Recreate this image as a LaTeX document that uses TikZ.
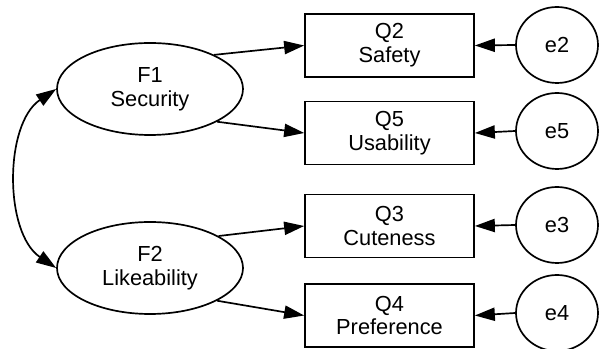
\documentclass[tikz,border=0pt]{standalone}
\usepackage{fontspec}
\setmainfont{Liberation Sans}
\usetikzlibrary{arrows.meta,shapes.geometric}

\begin{document}
\begin{tikzpicture}[
    every node/.style={font=\fontsize{15.5}{17}\selectfont, align=center},
    latent/.style={
        ellipse,
        draw,
        line width=1.2pt,
        minimum width=4.65cm,
        minimum height=2.3cm,
        inner sep=0pt
    },
    observed/.style={
        rectangle,
        draw,
        line width=1.2pt,
        minimum width=4.225cm,
        minimum height=1.575cm
    },
    error/.style={
        ellipse,
        draw,
        line width=1.2pt,
        minimum width=2.05cm,
        minimum height=1.9cm,
        inner sep=0pt
    },
    path/.style={
        line width=1.2pt,
        -{Triangle[length=0.5cm,width=0.33cm]}
    }
]

\useasboundingbox (0, 0) rectangle (15.075, 8.725);

% Factors
\node[latent] (F1) at (3.75, 6.5) {F1\\Security};
\node[latent] (F2) at (3.75, 2.025) {F2\\Likeability};

% Items
\node[observed] (Q2) at (9.7375, 7.5875) {Q2\\Safety};
\node[observed] (Q5) at (9.7375, 5.4) {Q5\\Usability};
\node[observed] (Q3) at (9.7375, 3.075) {Q3\\Cuteness};
\node[observed] (Q4) at (9.7375, 0.8375) {Q4\\Preference};

% Errors
\node[error] (e2) at (13.925, 7.6) {e2};
\node[error] (e5) at (13.925, 5.45) {e5};
\node[error] (e3) at (13.925, 3.1) {e3};
\node[error] (e4) at (13.925, 0.9) {e4};

% Loadings
\draw[path] (F1.28) -- (Q2.west);
\draw[path] (F1.-26) -- (Q5.west);
\draw[path] (F2.25) -- (Q3.west);
\draw[path] (F2.-26) -- (Q4.west);

% Error terms
\draw[path] (e2.west) -- (Q2.east);
\draw[path] (e5.west) -- (Q5.east);
\draw[path] (e3.west) -- (Q3.east);
\draw[path] (e4.west) -- (Q4.east);

% Covariance
\draw[line width=1.2pt, {Triangle[length=0.5cm,width=0.33cm]}-{Triangle[length=0.5cm,width=0.33cm]}]
    (F1.west) to[out=214, in=146, looseness=0.9] (F2.west);

\end{tikzpicture}
\end{document}
